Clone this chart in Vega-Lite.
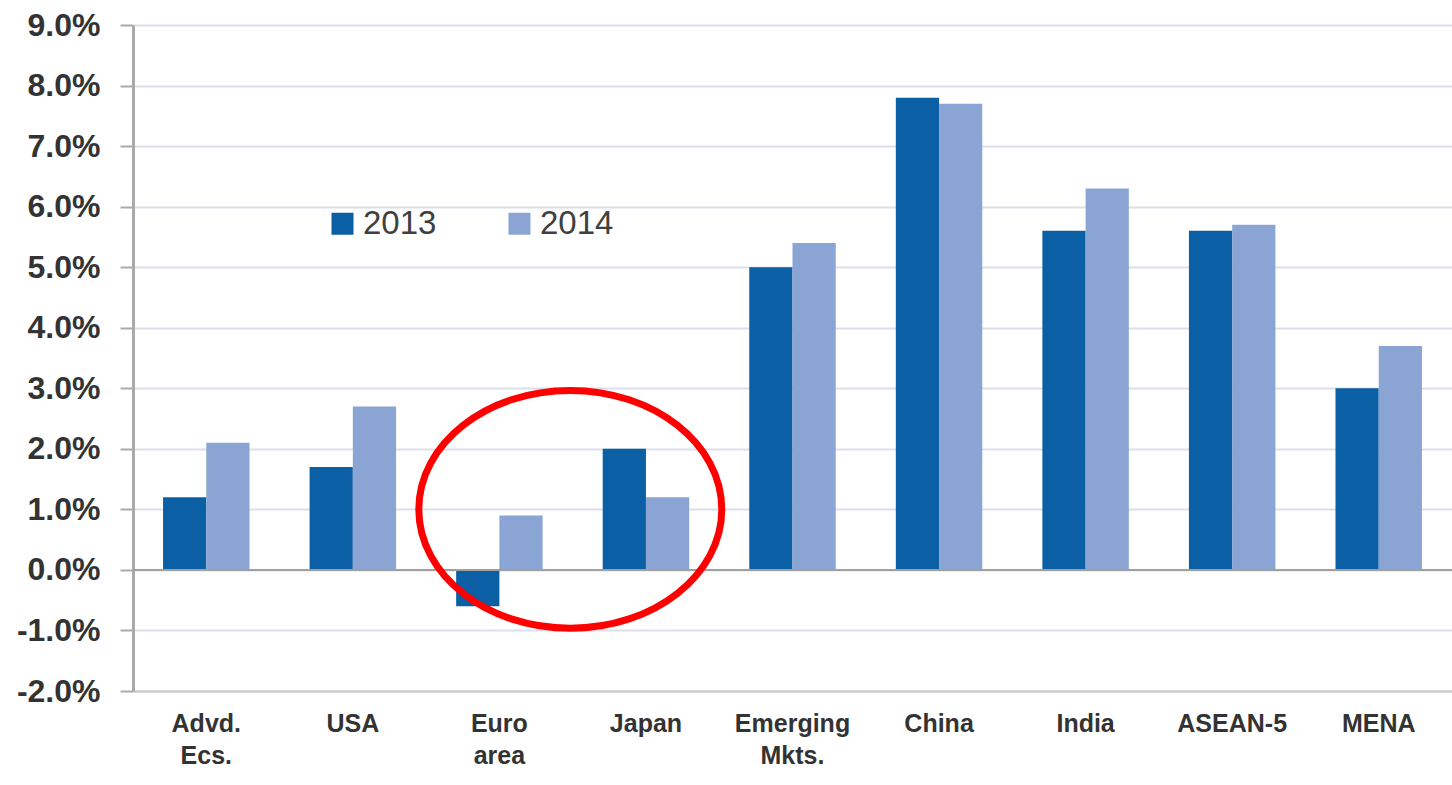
{
  "$schema": "https://vega.github.io/schema/vega-lite/v6.json",
  "width": 1319,
  "height": 666,
  "autosize": {"type": "none"},
  "padding": {"left": 133, "top": 25, "right": 0, "bottom": 94},
  "background": "white",
  "config": {"view": {"stroke": null}, "font": "Liberation Sans"},
  "datasets": {
    "growth": [
      {"category": "Advd. Ecs.", "year": "2013", "value": 0.012},
      {"category": "Advd. Ecs.", "year": "2014", "value": 0.021},
      {"category": "USA", "year": "2013", "value": 0.017},
      {"category": "USA", "year": "2014", "value": 0.027},
      {"category": "Euro area", "year": "2013", "value": -0.006},
      {"category": "Euro area", "year": "2014", "value": 0.009},
      {"category": "Japan", "year": "2013", "value": 0.020},
      {"category": "Japan", "year": "2014", "value": 0.012},
      {"category": "Emerging Mkts.", "year": "2013", "value": 0.050},
      {"category": "Emerging Mkts.", "year": "2014", "value": 0.054},
      {"category": "China", "year": "2013", "value": 0.078},
      {"category": "China", "year": "2014", "value": 0.077},
      {"category": "India", "year": "2013", "value": 0.056},
      {"category": "India", "year": "2014", "value": 0.063},
      {"category": "ASEAN-5", "year": "2013", "value": 0.056},
      {"category": "ASEAN-5", "year": "2014", "value": 0.057},
      {"category": "MENA", "year": "2013", "value": 0.030},
      {"category": "MENA", "year": "2014", "value": 0.037}
    ],
    "note": [{"category": "Euro area", "value": 0.01}]
  },
  "layer": [
    {
      "data": {"name": "growth"},
      "mark": {"type": "bar"},
      "encoding": {
        "x": {
          "field": "category",
          "type": "nominal",
          "sort": ["Advd. Ecs.", "USA", "Euro area", "Japan", "Emerging Mkts.", "China", "India", "ASEAN-5", "MENA"],
          "scale": {"paddingInner": 0.41, "paddingOuter": 0.205},
          "axis": {
            "title": null,
            "orient": "bottom",
            "labelAngle": 0,
            "labelExpr": "split(datum.label, ' ')",
            "labelFont": "Liberation Sans",
            "labelFontSize": 25,
            "labelFontWeight": "bold",
            "labelColor": "#333333",
            "labelLineHeight": 32,
            "labelBaseline": "top",
            "labelPadding": 20,
            "ticks": false,
            "domainColor": "#C8C8C8",
            "domainWidth": 2,
            "grid": false
          }
        },
        "xOffset": {"field": "year", "type": "nominal"},
        "y": {
          "field": "value",
          "type": "quantitative",
          "scale": {"domain": [-0.02, 0.09], "nice": false, "zero": false},
          "axis": {
            "title": null,
            "values": [-0.02, -0.01, 0, 0.01, 0.02, 0.03, 0.04, 0.05, 0.06, 0.07, 0.08, 0.09],
            "labelExpr": "(datum.value < -0.0001 ? '-' : '') + format(abs(datum.value) * 100, '.1f') + '%'",
            "labelFont": "Liberation Sans",
            "labelFontSize": 32,
            "labelFontWeight": "bold",
            "labelColor": "#333333",
            "labelPadding": 20,
            "tickSize": 13,
            "tickColor": "#AAAAAA",
            "tickWidth": 2,
            "domainColor": "#AAAAAA",
            "domainWidth": 3,
            "grid": true,
            "gridColor": "#DCDFEA",
            "gridWidth": 2
          }
        },
        "color": {
          "field": "year",
          "type": "nominal",
          "scale": {"domain": ["2013", "2014"], "range": ["#0B5FA5", "#8AA5D3"]},
          "legend": {
            "title": null,
            "orient": "none",
            "direction": "horizontal",
            "legendX": 193,
            "legendY": 182,
            "symbolType": "square",
            "symbolSize": 484,
            "symbolStrokeWidth": 0,
            "labelFont": "Liberation Sans",
            "labelFontSize": 33,
            "labelColor": "#404040",
            "labelOffset": 4,
            "columnPadding": 66,
            "padding": 0
          }
        }
      }
    },
    {
      "data": {"name": "note"},
      "mark": {"type": "rule", "color": "#A0A0A0", "strokeWidth": 2},
      "encoding": {"y": {"datum": 0}}
    },
    {
      "data": {"name": "note"},
      "mark": {
        "type": "point",
        "shape": "M -1,0 A 1,0.785 0 1,0 1,0 A 1,0.785 0 1,0 -1,0 Z",
        "size": 91809,
        "filled": false,
        "stroke": "#FF0000",
        "strokeWidth": 7,
        "opacity": 1
      },
      "encoding": {
        "x": {
          "field": "category",
          "type": "nominal",
          "bandPosition": 1.32,
          "sort": ["Advd. Ecs.", "USA", "Euro area", "Japan", "Emerging Mkts.", "China", "India", "ASEAN-5", "MENA"]
        },
        "y": {"field": "value", "type": "quantitative"}
      }
    }
  ]
}
